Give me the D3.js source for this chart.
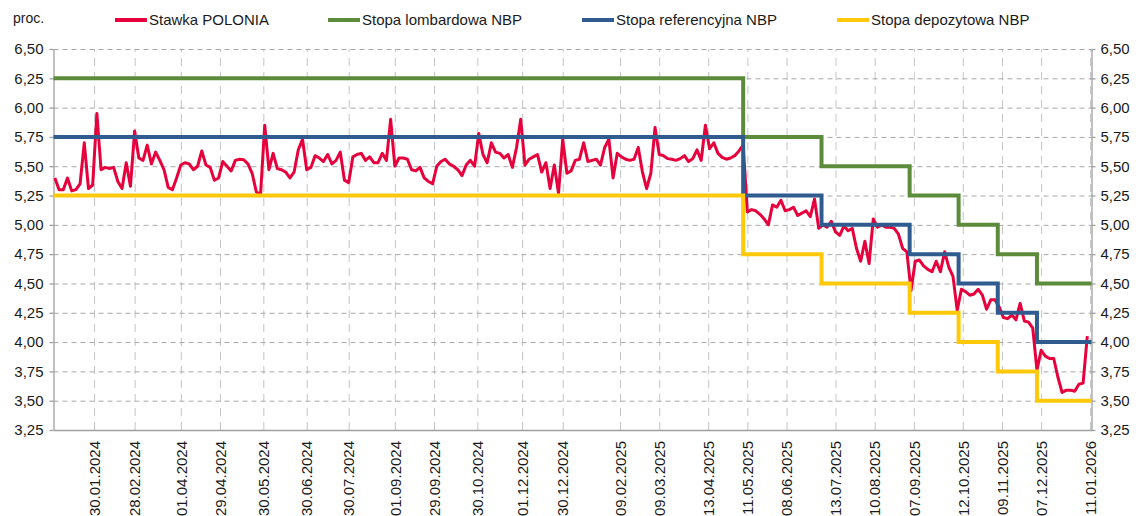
<!DOCTYPE html>
<html>
<head>
<meta charset="utf-8">
<script src="https://cdn.jsdelivr.net/npm/d3@7"></script>
<style>
body{margin:0;background:#fff;}
svg text{font-family:"Liberation Sans",Arial,sans-serif;fill:#1a1a1a;}
</style>
</head>
<body>
<svg id="chart" width="1142" height="516"></svg>
<script>
const parse = d3.timeParse("%d.%m.%Y")
const fmtDate = d3.timeFormat("%d.%m.%Y")
const pl = d3.formatLocale({decimal: ",", thousands: " ", grouping: [3], currency: ["", " zł"]})
const fmtY = pl.format(".2f")

const seriesNames = ["Stawka POLONIA", "Stopa lombardowa NBP", "Stopa referencyjna NBP", "Stopa depozytowa NBP"]
const seriesColors = ["#e6003c", "#5b8b3b", "#2f5b8e", "#ffc90a"]

const xTickLabels = ["30.01.2024", "28.02.2024", "01.04.2024", "29.04.2024", "30.05.2024", "30.06.2024",
	"30.07.2024", "01.09.2024", "29.09.2024", "30.10.2024", "01.12.2024", "30.12.2024", "09.02.2025",
	"09.03.2025", "13.04.2025", "11.05.2025", "08.06.2025", "13.07.2025", "10.08.2025", "07.09.2025",
	"12.10.2025", "09.11.2025", "07.12.2025", "11.01.2026"]
const yTicks = [3.25, 3.5, 3.75, 4.0, 4.25, 4.5, 4.75, 5.0, 5.25, 5.5, 5.75, 6.0, 6.25, 6.5]

// POLONIA, one value every 3 days from 02.01.2024
const poloniaStart = "02.01.2024"
const poloniaStepDays = 3
const polonia = [
	5.40, 5.30, 5.30, 5.40, 5.29, 5.30, 5.35, 5.70, 5.31, 5.34,
	5.95, 5.47, 5.49, 5.48, 5.49, 5.37, 5.31, 5.53, 5.33, 5.80,
	5.57, 5.55, 5.68, 5.52, 5.62, 5.55, 5.47, 5.32, 5.30, 5.40,
	5.51, 5.53, 5.52, 5.47, 5.50, 5.63, 5.51, 5.49, 5.38, 5.40,
	5.54, 5.50, 5.46, 5.55, 5.56, 5.555, 5.52, 5.44, 5.28, 5.26,
	5.85, 5.47, 5.61, 5.48, 5.47, 5.45, 5.40, 5.45, 5.64, 5.73,
	5.47, 5.49, 5.59, 5.57, 5.54, 5.60, 5.52, 5.55, 5.62, 5.38,
	5.36, 5.58, 5.60, 5.61, 5.55, 5.58, 5.53, 5.53, 5.61, 5.55,
	5.90, 5.50, 5.57, 5.57, 5.56, 5.47, 5.46, 5.49, 5.40, 5.37,
	5.35, 5.50, 5.54, 5.56, 5.52, 5.50, 5.47, 5.42, 5.51, 5.55,
	5.50, 5.78, 5.60, 5.53, 5.70, 5.62, 5.61, 5.57, 5.60, 5.49,
	5.66, 5.90, 5.51, 5.56, 5.58, 5.60, 5.45, 5.53, 5.31, 5.51,
	5.27, 5.73, 5.44, 5.46, 5.55, 5.56, 5.70, 5.54, 5.55, 5.56,
	5.51, 5.66, 5.73, 5.40, 5.61, 5.58, 5.56, 5.55, 5.56, 5.66,
	5.45, 5.31, 5.44, 5.83, 5.60, 5.59, 5.565, 5.56, 5.55, 5.565,
	5.59, 5.54, 5.565, 5.64, 5.55, 5.85, 5.65, 5.70, 5.61, 5.575,
	5.56, 5.57, 5.59, 5.63, 5.68, 5.11, 5.13, 5.12, 5.09, 5.05,
	5.00, 5.17, 5.15, 5.21, 5.12, 5.13, 5.15, 5.08, 5.10, 5.12,
	5.07, 5.22, 4.97, 5.00, 4.98, 5.03, 4.94, 4.91, 4.99, 4.95,
	4.97, 4.80, 4.69, 4.86, 4.67, 5.05, 4.98, 5.00, 4.98, 4.98,
	4.97, 4.92, 4.80, 4.77, 4.44, 4.69, 4.70, 4.65, 4.62, 4.60,
	4.69, 4.60, 4.77, 4.64, 4.56, 4.27, 4.45, 4.43, 4.40, 4.41,
	4.45, 4.40, 4.28, 4.36, 4.36, 4.30, 4.21, 4.20, 4.23, 4.19,
	4.33, 4.18, 4.17, 4.12, 3.76, 3.93, 3.88, 3.86, 3.86, 3.70,
	3.57, 3.59, 3.59, 3.58, 3.64, 3.65, 4.05
]

// NBP rates, value valid from the date on
const stepDates = ["01.01.2024", "08.05.2025", "03.07.2025", "04.09.2025", "09.10.2025", "06.11.2025", "04.12.2025", "12.01.2026"]
const lombardowa = [6.25, 5.75, 5.50, 5.25, 5.00, 4.75, 4.50, 4.50]
const referencyjna = [5.75, 5.25, 5.00, 4.75, 4.50, 4.25, 4.00, 4.00]
const depozytowa = [5.25, 4.75, 4.50, 4.25, 4.00, 3.75, 3.50, 3.50]

let svg = d3.select("#chart")
let pLeft = 53.5, pRight = 1091.5, pTop = 49, pBottom = 430

let x = d3.scaleTime().domain([parse("01.01.2024"), parse("12.01.2026")]).range([pLeft, pRight])
let y = d3.scaleLinear().domain([3.25, 6.5]).range([pBottom, pTop])

let start = parse(poloniaStart)
let poloniaData = polonia.map(function(v, i) {
	return {date: d3.timeDay.offset(start, i * poloniaStepDays), value: v}
})
let stepData = [lombardowa, referencyjna, depozytowa].map(function(arr) {
	return arr.map(function(v, i) { return {date: parse(stepDates[i]), value: v} })
})
let xTicks = xTickLabels.map(parse)

// vertical grid
svg.append("g")
	.attr("transform", "translate(0," + pBottom + ")")
	.call(d3.axisBottom(x).tickValues(xTicks).tickSize(-(pBottom - pTop)).tickFormat(""))
	.call(g => g.select(".domain").remove())
	.selectAll("line")
	.attr("stroke", "#c4c4c4")
	.attr("stroke-dasharray", "8,6")

// horizontal grid
svg.append("g")
	.attr("transform", "translate(" + pLeft + ",0)")
	.call(d3.axisLeft(y).tickValues(yTicks.filter(d => d > 3.25)).tickSize(-(pRight - pLeft)).tickFormat(""))
	.call(g => g.select(".domain").remove())
	.selectAll("line")
	.attr("stroke", "#a8a8a8")
	.attr("stroke-dasharray", "5,4")

// left axis
let yLeft = svg.append("g")
	.attr("transform", "translate(" + pLeft + ",0)")
	.call(d3.axisLeft(y).tickValues(yTicks).tickSize(4).tickSizeOuter(0).tickPadding(6).tickFormat(fmtY))
yLeft.selectAll("text").style("font-size", "15px").attr("fill", "#1a1a1a")

// right axis
let yRight = svg.append("g")
	.attr("transform", "translate(" + pRight + ",0)")
	.call(d3.axisRight(y).tickValues(yTicks).tickSize(4).tickSizeOuter(0).tickPadding(5).tickFormat(fmtY))
yRight.selectAll("text").style("font-size", "15px").attr("fill", "#1a1a1a")

// bottom axis
let xAxis = svg.append("g")
	.attr("transform", "translate(0," + pBottom + ")")
	.call(d3.axisBottom(x).tickValues(xTicks).tickSize(0).tickSizeOuter(0).tickFormat(fmtDate))
xAxis.selectAll("text")
	.attr("transform", "rotate(-90)")
	.attr("text-anchor", "end")
	.attr("x", -11)
	.attr("y", 0)
	.attr("dy", "0.35em")
	.style("font-size", "15px")
	.attr("fill", "#1a1a1a")

svg.selectAll(".domain, .tick line").filter(function() { return !this.getAttribute("stroke-dasharray") })
	.attr("stroke", "#a0a0a0")
	.attr("stroke-width", 1.3)

// series
let line = d3.line().x(d => x(d.date)).y(d => y(d.value))
let stepLine = d3.line().x(d => x(d.date)).y(d => y(d.value)).curve(d3.curveStepAfter)

svg.append("path")
	.datum(poloniaData)
	.attr("fill", "none")
	.attr("stroke", seriesColors[0])
	.attr("stroke-width", 3)
	.attr("stroke-linejoin", "round")
	.attr("d", line)

stepData.forEach(function(d, i) {
	svg.append("path")
		.datum(d)
		.attr("fill", "none")
		.attr("stroke", seriesColors[i + 1])
		.attr("stroke-width", 4)
		.attr("d", stepLine)
})

// legend
let legendX = [115, 328, 582, 837]
let legend = svg.append("g")
seriesNames.forEach(function(name, i) {
	legend.append("line")
		.attr("x1", legendX[i]).attr("x2", legendX[i] + 32)
		.attr("y1", 20).attr("y2", 20)
		.attr("stroke", seriesColors[i])
		.attr("stroke-width", 4)
	legend.append("text")
		.attr("x", legendX[i] + 34)
		.attr("y", 20)
		.attr("dy", "0.35em")
		.style("font-size", "15px")
		.text(name)
})

svg.append("text")
	.attr("x", 13)
	.attr("y", 23)
	.style("font-size", "14px")
	.text("proc.")
</script>
</body>
</html>
